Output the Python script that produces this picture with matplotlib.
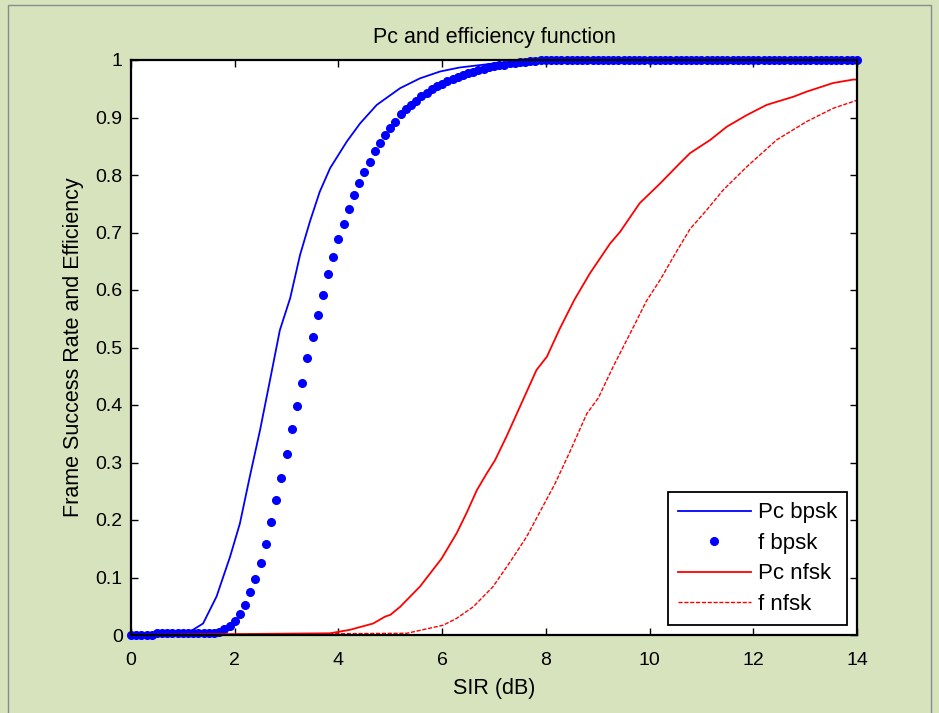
import matplotlib.pyplot as plt
import matplotlib.patches as mpatches
import numpy as np

plt.rcParams['font.family'] = ['Liberation Sans', 'DejaVu Sans']

# SIR grid for the dotted efficiency curve (0.1 dB steps)
sir_dots = np.round(np.arange(141) * 0.1, 1)
f_bpsk = [0.0, 0.0, 0.0, 0.0, 0.0,
          0.004, 0.004, 0.004, 0.004, 0.004, 0.004, 0.004, 0.004, 0.004, 0.004, 0.004, 0.004,
          0.006, 0.010, 0.016, 0.024, 0.036, 0.053, 0.074, 0.097, 0.126, 0.159,
          0.197, 0.235, 0.273, 0.314, 0.358, 0.398, 0.439, 0.481, 0.519, 0.557,
          0.592, 0.627, 0.657, 0.689, 0.715, 0.741, 0.765, 0.786, 0.806, 0.823,
          0.841, 0.855, 0.870, 0.881, 0.893, 0.906, 0.915, 0.922, 0.929, 0.937,
          0.943, 0.949, 0.954, 0.958, 0.963, 0.967, 0.970, 0.974, 0.977, 0.980,
          0.983, 0.985, 0.987, 0.989, 0.991, 0.992, 0.994, 0.995, 0.996, 0.997,
          0.998, 0.999] + [1.0] * 62

sir_pc_bpsk = [0, 0.5, 1.0, 1.14, 1.39, 1.65, 1.91, 2.10, 2.29, 2.49, 2.68, 2.87, 3.07,
               3.26, 3.45, 3.64, 3.84, 4.16, 4.42, 4.74, 5.19, 5.57, 5.96, 6.34, 7.0,
               7.5, 8.0, 9.0, 14.0]
pc_bpsk = [0, 0.004, 0.004, 0.006, 0.020, 0.067, 0.136, 0.194, 0.275, 0.357, 0.443,
           0.530, 0.586, 0.661, 0.719, 0.771, 0.812, 0.858, 0.890, 0.922, 0.951, 0.968,
           0.980, 0.987, 0.994, 0.997, 0.999, 1.0, 1.0]

sir_pc_nfsk = [0, 3.84, 4.22, 4.67, 4.90, 5.0, 5.19, 5.57, 5.99, 6.28, 6.47, 6.67, 6.86,
               7.02, 7.24, 7.50, 7.82, 8.02, 8.27, 8.55, 8.85, 9.24, 9.43, 9.81, 10.20,
               10.59, 10.78, 11.17, 11.49, 11.87, 12.26, 12.77, 13.03, 13.54, 13.93, 14.0]
pc_nfsk = [0, 0.003, 0.009, 0.020, 0.032, 0.035, 0.049, 0.084, 0.133, 0.177, 0.212,
           0.252, 0.281, 0.304, 0.345, 0.397, 0.461, 0.484, 0.533, 0.583, 0.629, 0.681,
           0.701, 0.751, 0.785, 0.821, 0.838, 0.861, 0.884, 0.904, 0.922, 0.936, 0.945,
           0.960, 0.966, 0.966]

sir_f_nfsk = [0, 5.32, 5.77, 6.02, 6.28, 6.60, 6.98, 7.31, 7.63, 7.92, 8.17, 8.46, 8.79,
              9.01, 9.30, 9.69, 9.94, 10.20, 10.52, 10.78, 11.10, 11.42, 11.87, 12.45,
              13.03, 13.54, 14.0]
f_nfsk = [0, 0.003, 0.012, 0.017, 0.029, 0.049, 0.084, 0.127, 0.171, 0.220, 0.262,
          0.318, 0.385, 0.412, 0.467, 0.536, 0.581, 0.617, 0.667, 0.706, 0.739, 0.774,
          0.814, 0.861, 0.893, 0.916, 0.930]

fig = plt.figure(figsize=(9.39, 7.13), dpi=100, facecolor='#d7e3bd')
# thin grey frame round the figure window
fig.patches.append(mpatches.Rectangle((8 / 939, -0.01), 923 / 939, 1 - 5 / 713 + 0.01,
                                      transform=fig.transFigure, fill=False,
                                      edgecolor='#8a8a8a', lw=1.0))

ax = fig.add_axes([131 / 939, 1 - 635 / 713, 726 / 939, 575 / 713])
ax.set_facecolor('white')

ax.plot(sir_pc_bpsk, pc_bpsk, '-', color='#0000ff', lw=1.3, label='Pc bpsk', clip_on=False)
ax.plot(sir_dots, f_bpsk, '.', color='#0000ff', markersize=11, label='f bpsk', clip_on=False)
ax.plot(sir_pc_nfsk, pc_nfsk, '-', color='#ff0000', lw=1.3, label='Pc nfsk', clip_on=False)
ax.plot(sir_f_nfsk, f_nfsk, '--', color='#ff0000', lw=1.0, dashes=(3, 1.2),
        label='f nfsk', clip_on=False)

ax.set_xlim(0, 14)
ax.set_ylim(0, 1)
ax.set_xticks(np.arange(0, 15, 2))
ax.set_yticks(np.round(np.arange(0, 1.01, 0.1), 1))
ax.set_yticklabels(['0', '0.1', '0.2', '0.3', '0.4', '0.5', '0.6', '0.7', '0.8', '0.9', '1'])
ax.tick_params(direction='in', length=5, width=1, top=True, right=True,
               labelsize=14, pad=6, colors='black')
ax.tick_params(axis='x', pad=12)
for s in ax.spines.values():
    s.set_linewidth(1.6)

ax.set_title('Pc and efficiency function', fontsize=15.5, pad=12)
ax.set_xlabel('SIR (dB)', fontsize=15.5, labelpad=7)
ax.set_ylabel('Frame Success Rate and Efficiency', fontsize=15.5, labelpad=8)

leg = ax.legend(loc='lower right', fontsize=16, fancybox=False, framealpha=1,
                edgecolor='black', borderaxespad=0.45, handlelength=3.3,
                labelspacing=0.43, borderpad=0.45, handletextpad=0.3)
leg.get_frame().set_linewidth(1.3)

fig.savefig('out.png', dpi=100, facecolor=fig.get_facecolor())
